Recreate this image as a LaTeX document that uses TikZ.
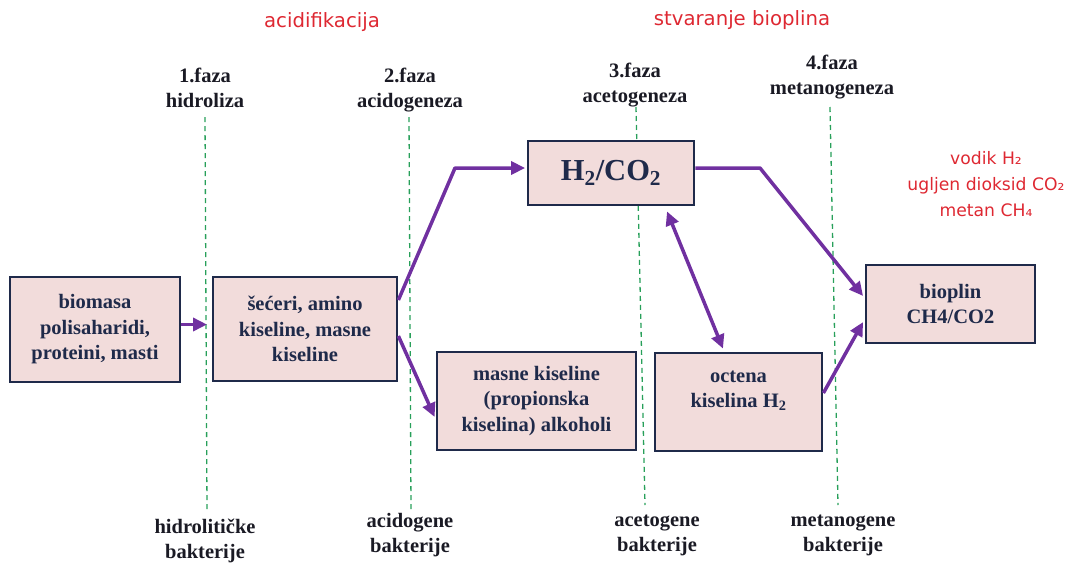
\documentclass[tikz,border=0pt]{standalone}
\usepackage{fontspec}
\setmainfont{Liberation Serif}
\newfontfamily\redfont{DejaVu Sans}
\usetikzlibrary{arrows.meta}
\definecolor{boxfill}{RGB}{242,220,219}
\definecolor{boxline}{RGB}{31,42,74}
\definecolor{arrowc}{RGB}{112,48,160}
\definecolor{dashc}{RGB}{40,160,90}
\definecolor{redt}{RGB}{222,40,50}
\definecolor{lblc}{RGB}{26,26,36}
\tikzset{
  stagebox/.style={draw=boxline, line width=2.8pt, fill=boxfill, align=center,
    font=\bfseries\fontsize{20.5}{25.5}\selectfont, text=boxline, inner sep=2pt},
  phase/.style={align=center, font=\bfseries\fontsize{20.5}{25}\selectfont, text=lblc, inner sep=0pt},
  redlbl/.style={font=\redfont\fontsize{19.7}{22}\selectfont, text=redt, inner sep=0pt},
  gasinfo/.style={align=center, font=\redfont\fontsize{17.2}{26}\selectfont, text=redt, inner sep=0pt},
  divider/.style={draw=dashc, line width=1.3pt, dash pattern=on 5pt off 4pt},
  flow/.style={draw=arrowc, line width=3.5pt, -{Triangle[length=14pt,width=13pt]}},
  flowboth/.style={draw=arrowc, line width=3.5pt, {Triangle[length=14pt,width=13pt]}-{Triangle[length=14pt,width=13pt]}}
}
\begin{document}
\begin{tikzpicture}[x=1pt,y=-1pt]
\useasboundingbox (0,0) rectangle (1071,563);
% divider coordinates
\coordinate (d1t) at (205,117); \coordinate (d1b) at (207,510);
\coordinate (d2t) at (409,117); \coordinate (d2b) at (411,510);
\coordinate (d3t) at (636,107); \coordinate (d3b) at (645,505);
\coordinate (d4t) at (830,107); \coordinate (d4b) at (838,505);
\draw[divider] (d1t) -- (d1b);
\draw[divider] (d2t) -- (d2b);
\draw[divider] (d3t) -- (d3b);
\draw[divider] (d4t) -- (d4b);

% titles
\node[redlbl] (acid) at (322,22) {acidifikacija};
\node[redlbl] (stvar) at (742,20) {stvaranje bioplina};
\node[gasinfo] (gas) at (986,184) {vodik H₂\\ugljen dioksid CO₂\\metan CH₄};

% phase labels
\node[phase] (p1) at (205,88) {1.faza\\hidroliza};
\node[phase] (p2) at (410,90) {2.faza\\acidogeneza};
\node[phase] (p3) at (635,85) {3.faza\\acetogeneza};
\node[phase] (p4) at (832,77) {4.faza\\metanogeneza};

\node[phase] (b1) at (205,541) {hidrolitičke\\bakterije};
\node[phase] (b2) at (410,535) {acidogene\\bakterije};
\node[phase] (b3) at (657,535) {acetogene\\bakterije};
\node[phase] (b4) at (843,535) {metanogene\\bakterije};

% boxes
\node[stagebox, minimum width=170pt, minimum height=105pt] (bio) at (95,329.5) {biomasa\\polisaharidi,\\proteini, masti};
\node[stagebox, minimum width=184pt, minimum height=104pt] (sec) at (305,329) {šećeri, amino\\kiseline, masne\\kiseline};
\node[stagebox, minimum width=166pt, minimum height=64pt, font=\bfseries\fontsize{30.5}{33}\selectfont] (h2) at (611,173) {H\textsubscript{2}/CO\textsubscript{2}};
\node[stagebox, minimum width=199pt, minimum height=98pt] (masne) at (536.5,401) {masne kiseline\\(propionska\\kiselina) alkoholi};
\node[stagebox, minimum width=167pt, minimum height=98pt] (oct) at (738.5,402) {octena\\kiselina H\textsubscript{2}\\\phantom{x}};
\node[stagebox, minimum width=169pt, minimum height=78pt] (biopl) at (950.5,304) {bioplin\\CH4/CO2};

% connectors
\coordinate (c1) at (207,324.5);
\coordinate (k1) at (455,168);
\coordinate (k2) at (760,168);
\draw[flow] ([yshift=5pt]bio.east) -- (c1);
\draw[flow, line join=round] ([yshift=29pt]sec.east) -- (k1) -- ([yshift=5pt,xshift=-1.5pt]h2.west);
\draw[flow] ([yshift=-7pt]sec.east) -- ([yshift=-16pt,xshift=-1pt]masne.west);
\draw[flow, line join=round] ([yshift=5pt]h2.east) -- (k2) -- ([yshift=8pt,xshift=-1.5pt]biopl.west);
\draw[flowboth] ([xshift=56pt,yshift=-5pt]h2.south) -- ([xshift=-15.5pt,yshift=3pt]oct.north);
\draw[flow] ([yshift=9pt]oct.east) -- ([yshift=-18pt,xshift=-1.5pt]biopl.west);
\end{tikzpicture}
\end{document}
